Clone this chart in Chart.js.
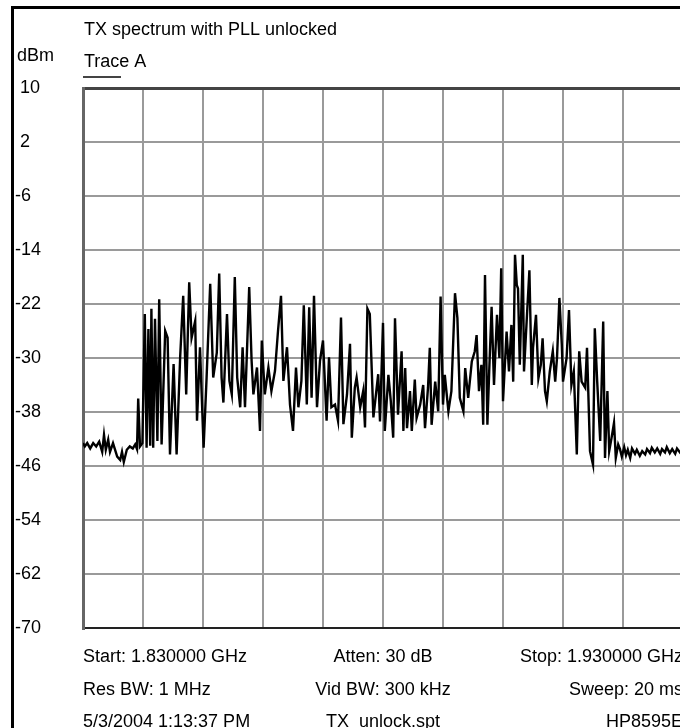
<!DOCTYPE html>
<html>
<head>
<meta charset="utf-8">
<title>TX spectrum with PLL unlocked</title>
<script src="https://cdn.jsdelivr.net/npm/chart.js@4"></script>
<style>
  html, body { margin: 0; padding: 0; background: #fff; overflow: hidden; }
  #spectrumChart { display: block; }
</style>
</head>
<body>
<canvas id="spectrumChart" width="690" height="728"></canvas>
<script>
// Trace A (MHz / dBm)
const freqMHz = [
  1830.0, 1830.3, 1830.7, 1831.2, 1831.7, 1832.2, 1832.7, 1833.2, 1833.5, 1833.8,
  1834.2, 1834.5, 1835.0, 1835.7, 1836.2, 1836.5, 1836.8, 1837.3, 1837.8, 1838.3,
  1838.7, 1839.0, 1839.2, 1839.5, 1839.9,
  1840.3, 1840.6, 1840.9, 1841.2, 1841.4, 1841.7, 1842.0, 1842.4, 1842.7, 1843.1,
  1843.7, 1844.1, 1844.5, 1845.1, 1845.6, 1846.2, 1846.7, 1847.2, 1847.7, 1848.1,
  1848.7, 1849.0, 1849.5, 1850.1, 1850.6, 1851.2, 1851.7, 1852.3, 1852.7, 1853.1,
  1853.4, 1854.0, 1854.4, 1854.8, 1855.3, 1855.7, 1856.2, 1856.6, 1857.0, 1857.7,
  1858.1, 1858.4, 1859.0, 1859.5, 1859.8, 1860.3, 1860.9, 1861.4, 1862.0, 1862.5,
  1863.0, 1863.4, 1864.0, 1864.5, 1865.0, 1865.5, 1865.9, 1866.4, 1866.8, 1867.3,
  1867.7, 1868.1, 1868.5, 1869.0, 1869.5, 1870.0, 1870.6, 1871.0, 1871.4, 1872.0,
  1872.5, 1873.0, 1873.4, 1874.0, 1874.5, 1874.8, 1875.3, 1875.6, 1876.2, 1876.7,
  1877.0, 1877.4, 1877.8, 1878.4, 1878.7, 1879.2, 1879.5, 1880.0, 1880.3, 1880.9,
  1881.3, 1881.7, 1882.0, 1882.5, 1883.1, 1883.4, 1883.7, 1884.0, 1884.5, 1884.8,
  1885.3, 1885.6, 1886.2, 1886.7, 1887.0, 1887.5, 1887.8, 1888.1, 1888.7, 1889.2,
  1889.6, 1890.0, 1890.3, 1890.9, 1891.4, 1892.0, 1892.4, 1892.8, 1893.4, 1893.7,
  1894.2, 1894.8, 1895.3, 1895.6, 1896.0, 1896.4, 1896.7, 1897.0, 1897.4, 1897.7,
  1898.1, 1898.5, 1899.0, 1899.4, 1899.7, 1900.0, 1900.6, 1901.0, 1901.4, 1901.7,
  1902.0, 1902.3, 1902.5, 1902.8, 1903.3, 1903.5, 1904.0, 1904.4, 1904.8, 1905.0,
  1905.5, 1905.9, 1906.3, 1906.6, 1907.0, 1907.3, 1907.8, 1908.3, 1908.7, 1909.0,
  1909.4, 1909.8, 1910.0, 1910.6, 1911.0, 1911.4, 1911.8, 1912.3, 1912.7, 1913.1,
  1913.7, 1914.0, 1914.5, 1915.0, 1915.3, 1915.7, 1916.2, 1916.7, 1917.0, 1917.4,
  1917.7, 1918.1, 1918.5, 1918.8, 1919.2,
  1919.5, 1919.8, 1920.2, 1920.5, 1920.8, 1921.2, 1921.5, 1922.0, 1922.3, 1922.8,
  1923.2, 1923.7, 1924.0, 1924.5, 1924.8, 1925.3, 1925.7, 1926.2, 1926.5, 1927.0,
  1927.3, 1927.8, 1928.2, 1928.7, 1929.0, 1929.5, 1930.0
];
const levelDbm = [
  -42.6, -43.1, -42.6, -43.4, -42.6, -43.1, -42.4, -43.9, -41.4, -43.6,
  -42.1, -43.9, -42.6, -44.6, -45.1, -43.9, -45.4, -43.6, -43.1, -43.4,
  -42.8, -43.5, -36.0, -43.1, -42.6,
  -23.5, -43.3, -25.7, -43.0, -22.7, -43.3, -24.2, -42.3, -21.3, -42.8,
  -26.0, -27.0, -44.3, -30.9, -44.3, -29.7, -20.8, -35.4, -18.8, -27.0,
  -24.5, -39.3, -28.4, -43.3, -32.9, -19.0, -32.9, -29.2, -17.5, -32.9,
  -36.6, -23.5, -33.4, -35.4, -18.0, -32.9, -37.3, -28.4, -37.3, -19.5,
  -30.4, -35.4, -31.4, -40.8, -27.4, -35.4, -31.4, -34.9, -31.9, -26.0,
  -20.8, -33.4, -28.4, -36.9, -40.8, -31.4, -37.3, -33.4, -22.2, -36.9,
  -22.5, -35.9, -20.8, -37.3, -30.4, -27.4, -39.3, -29.9, -37.3, -36.9,
  -39.3, -24.0, -39.8, -35.4, -27.9, -41.8, -34.4, -32.9, -37.3, -34.9,
  -40.3, -22.7, -23.5, -38.8, -36.4, -32.4, -39.4, -24.8, -40.8, -32.5,
  -36.4, -41.8, -24.1, -38.4, -29.0, -40.8, -31.5, -40.4, -34.9, -40.8,
  -33.2, -38.9, -36.9, -34.0, -40.4, -34.4, -28.5, -39.9, -33.5, -37.9,
  -20.9, -36.9, -32.5, -37.9, -34.9, -20.4, -24.1, -35.9, -37.9, -31.5,
  -35.9, -30.5, -29.0, -26.6, -34.9, -31.0, -39.9, -17.7, -39.9, -32.0,
  -22.4, -34.0, -23.6, -30.0, -16.7, -36.4, -26.1, -32.0, -25.1, -33.5,
  -14.7, -19.2, -19.7, -31.0, -14.7, -32.0, -23.6, -17.0, -34.0, -28.5,
  -23.6, -33.0, -31.0, -27.1, -34.9, -36.4, -32.0, -29.0, -33.5, -30.0,
  -21.1, -28.0, -33.5, -30.0, -22.9, -34.0, -32.0, -44.3, -29.0, -33.5,
  -34.4, -28.5, -43.8, -45.8, -25.6, -33.5, -42.3, -24.6, -44.8, -34.9,
  -43.8, -41.8, -39.6, -44.8, -42.8,
  -43.5, -44.6, -43.2, -44.4, -43.6, -44.8, -43.4, -44.2, -43.6, -44.5,
  -43.8, -44.3, -43.5, -44.1, -43.3, -44.0, -43.4, -44.2, -43.5, -44.0,
  -43.2, -44.1, -43.5, -44.2, -43.4, -44.0, -43.6
];
const yTickValues = [10, 2, -6, -14, -22, -30, -38, -46, -54, -62, -70];
const xGridFreqs = [1830, 1840, 1850, 1860, 1870, 1880, 1890, 1900, 1910, 1920, 1930];

const titleText = "TX spectrum with PLL unlocked";
const unitText = "dBm";
const traceText = "Trace A";
const footerLeft = ["Start: 1.830000 GHz", "Res BW: 1 MHz", "5/3/2004 1:13:37 PM"];
const footerMid = ["Atten: 30 dB", "Vid BW: 300 kHz", "TX_unlock.spt"];
const footerRight = ["Stop: 1.930000 GHz", "Sweep: 20 ms", "HP8595E"];

const FONT = "18px 'Liberation Sans', Arial, sans-serif";
Chart.defaults.font.family = "'Liberation Sans', Arial, sans-serif";
Chart.defaults.font.size = 18;
Chart.defaults.color = "#000";

// frame, header and footer text around the plot
const labelsPlugin = {
  id: "analyzerLabels",
  afterDraw(chart) {
    const ctx = chart.ctx;
    const area = chart.chartArea;
    ctx.save();
    ctx.fillStyle = "#000";
    ctx.fillRect(11, 6, chart.width, 3);
    ctx.fillRect(11, 6, 3, chart.height);

    ctx.font = FONT;
    ctx.textBaseline = "alphabetic";
    ctx.textAlign = "left";
    ctx.fillText(titleText, area.left + 1, 35);
    ctx.fillText(unitText, 17, 61);
    ctx.fillText(traceText, area.left + 1, 67);
    ctx.fillStyle = "#444";
    ctx.fillRect(area.left, 76, 38, 2);

    ctx.fillStyle = "#000";
    const rows = [area.bottom + 34, area.bottom + 67, area.bottom + 99];
    const mid = (area.left + area.right) / 2;
    rows.forEach((y, i) => {
      ctx.textAlign = "left";
      ctx.fillText(footerLeft[i], area.left, y);
      ctx.textAlign = "center";
      ctx.fillText(footerMid[i], mid, y);
      ctx.textAlign = "right";
      ctx.fillText(footerRight[i], area.right, y);
    });
    ctx.restore();
  },
};

new Chart(document.getElementById("spectrumChart"), {
  type: "line",
  data: {
    datasets: [
      {
        label: traceText,
        data: freqMHz.map((f, i) => ({ x: f, y: levelDbm[i] })),
        borderColor: "#000",
        borderWidth: 2.4,
        pointRadius: 0,
        tension: 0,
      },
    ],
  },
  options: {
    responsive: false,
    animation: false,
    devicePixelRatio: 1,
    layout: { padding: { left: 15, top: 88, right: 7, bottom: 100 } },
    plugins: {
      legend: { display: false },
      tooltip: { enabled: false },
    },
    scales: {
      x: {
        type: "linear",
        min: 1830,
        max: 1930,
        afterBuildTicks: (scale) => {
          scale.ticks = xGridFreqs.map((v) => ({ value: v }));
        },
        afterFit: (scale) => {
          scale.height = 0;
        },
        ticks: { display: false },
        grid: { color: "#9a9a9a", lineWidth: 2, drawTicks: false },
        border: { color: "#222", width: 2 },
      },
      y: {
        min: -70,
        max: 10,
        afterBuildTicks: (scale) => {
          scale.ticks = yTickValues.map((v) => ({ value: v }));
        },
        afterFit: (scale) => {
          scale.width = 68;
        },
        ticks: {
          crossAlign: "far",
          color: "#000",
          callback: (v) => (v >= 0 ? " " + v : String(v)),
        },
        grid: {
          drawTicks: false,
          color: (c) => (c.tick && c.tick.value === 10 ? "#444" : "#9a9a9a"),
          lineWidth: (c) => (c.tick && c.tick.value === 10 ? 3 : 2),
        },
        border: { color: "#666", width: 3 },
      },
    },
  },
  plugins: [labelsPlugin],
});
</script>
</body>
</html>
